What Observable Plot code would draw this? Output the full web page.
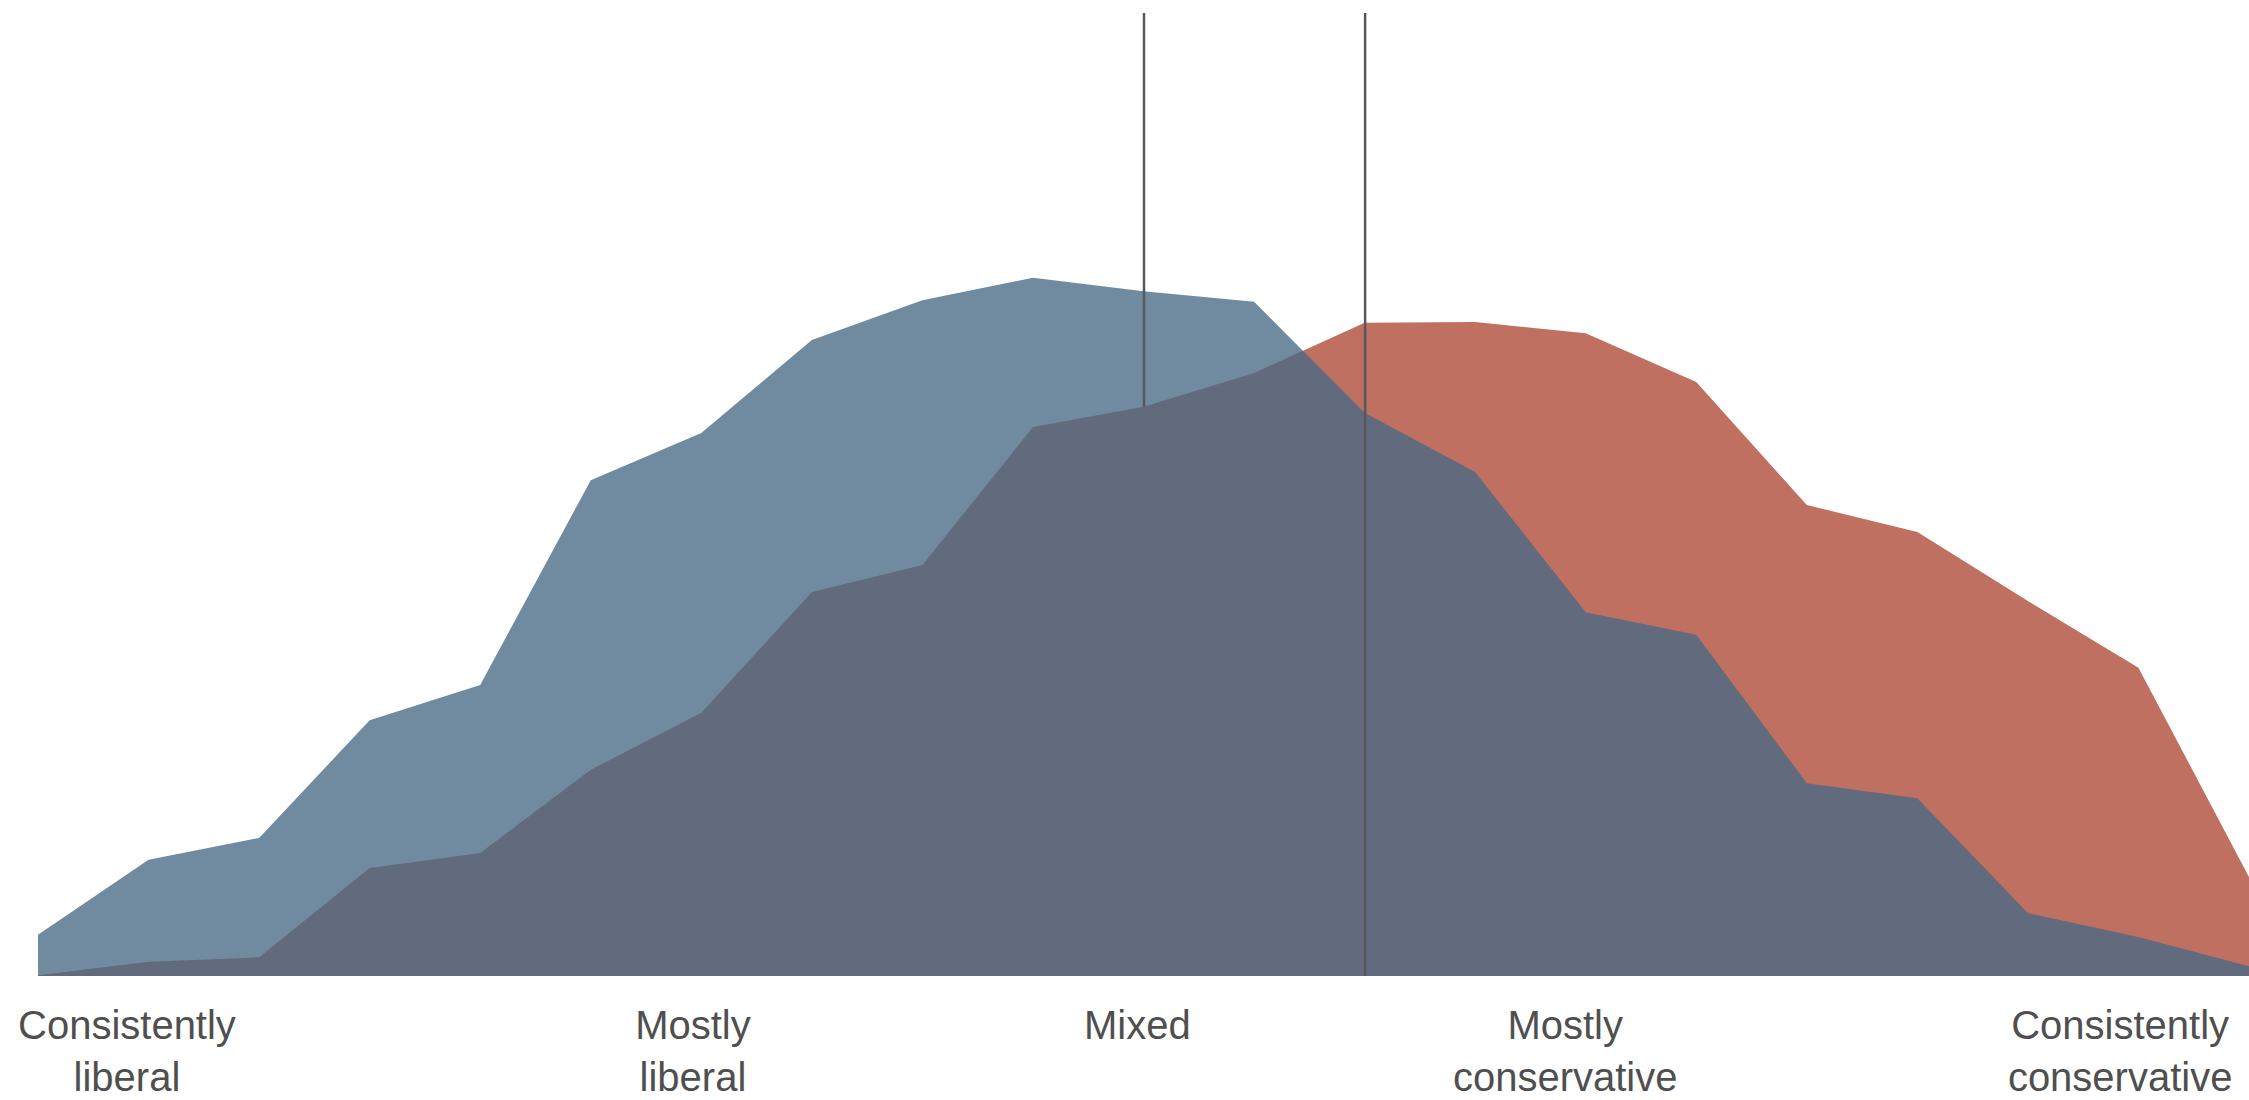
<!DOCTYPE html>
<html>
<head>
<meta charset="utf-8">
<script src="https://cdn.jsdelivr.net/npm/d3@7"></script>
<script src="https://cdn.jsdelivr.net/npm/@observablehq/plot@0.6"></script>
<style>
  html, body { margin: 0; padding: 0; background: #ffffff; overflow: hidden; }
  #chart svg { display: block; }
</style>
</head>
<body>
<div id="chart"></div>
<script>
// Ideological consistency scale positions (-10 = consistently liberal, +10 = consistently conservative)
const positions = [-10, -9, -8, -7, -6, -5, -4, -3, -2, -1, 0, 1, 2, 3, 4, 5, 6, 7, 8, 9, 10];
// Share of each party at each position (%)
const democrats   = [0.55, 1.55, 1.84, 3.41, 3.88, 6.61, 7.24, 8.48, 9.01, 9.31, 9.13, 8.99, 7.51, 6.72, 4.85, 4.55, 2.57, 2.37, 0.84, 0.52, 0.13];
const republicans = [0.01, 0.19, 0.25, 1.44, 1.64, 2.75, 3.51, 5.12, 5.48, 7.32, 7.59, 8.04, 8.71, 8.72, 8.57, 7.92, 6.28, 5.92, 5.00, 4.11, 1.32];

// Median lines
const medianParty = ["Democrats", "Republicans"];
const medianPos = [0, 2];
const medianFloor = [7.59, 0];
const medianTop = 12.84;

// Scale labels
const scaleLabels = ["Consistently\nliberal", "Mostly\nliberal", "Mixed", "Mostly\nconservative", "Consistently\nconservative"];
const scaleLabelPos = [-9.2, -4.08, -0.06, 3.81, 8.83];

const demRows = positions.map((x, i) => ({x, y: democrats[i]}));
const repRows = positions.map((x, i) => ({x, y: republicans[i]}));
const medianRows = medianParty.map((p, i) => ({party: p, x: medianPos[i], y1: medianFloor[i], y2: medianTop}));
const labelRows = scaleLabels.map((t, i) => ({text: t, x: scaleLabelPos[i]}));

const chart = Plot.plot({
  width: 2249,
  height: 1100,
  marginLeft: 38,
  marginRight: 0,
  marginTop: 1,
  marginBottom: 124,
  style: {fontFamily: "'Liberation Sans', Arial, sans-serif", background: "#ffffff"},
  x: {domain: [-10, 10], axis: null},
  y: {domain: [0, 13], axis: null},
  marks: [
    Plot.areaY(repRows, {x: "x", y: "y", fill: "#c07060"}),
    Plot.areaY(demRows, {x: "x", y: "y", fill: "#486a85", fillOpacity: 0.78}),
    Plot.ruleX(medianRows, {x: "x", y1: "y1", y2: "y2", stroke: "#56585e", strokeWidth: 2.5}),
    Plot.text(labelRows, {
      x: "x", y: 0, text: "text",
      lineAnchor: "top", dy: 26,
      fontSize: 40, lineHeight: 1.3,
      fill: "#4f4f4f"
    })
  ]
});
document.getElementById("chart").appendChild(chart);
</script>
</body>
</html>
